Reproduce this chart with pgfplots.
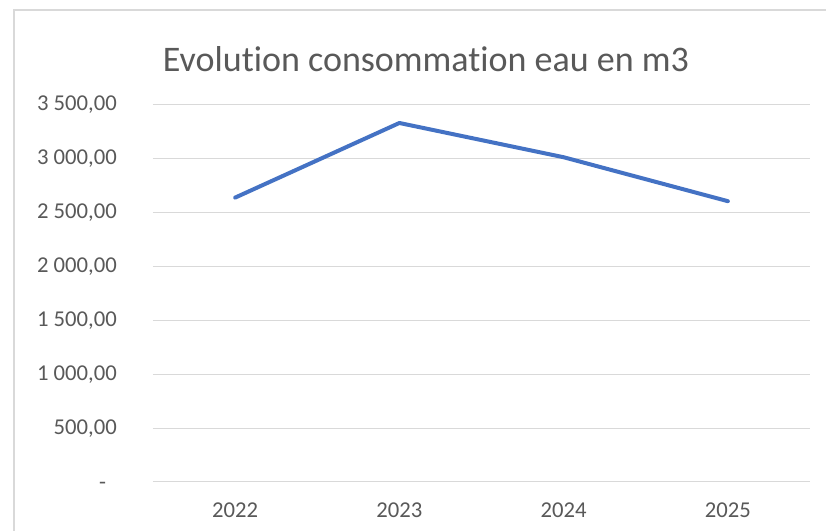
\documentclass[border=0pt]{standalone}
\usepackage{pgfplots}
\pgfplotsset{compat=1.18}
\usepackage{fontspec}
\setmainfont{Carlito}[Ligatures=NoCommon]
\definecolor{txtgray}{HTML}{595959}
\definecolor{gridgray}{HTML}{D9D9D9}
\definecolor{lineblue}{HTML}{4472C4}
\begin{document}
\begin{tikzpicture}
% page frame (826 x 531 px at 0.75pt/px)
\useasboundingbox (0,0) rectangle (619.5pt,398.25pt);
\fill[white] (0,0) rectangle (619.5pt,398.25pt);
\draw[gridgray, line width=1.5pt] (10.5pt,0) -- (10.5pt,390.75pt) -- (619.5pt,390.75pt);
\node[txtgray, font=\fontsize{27}{32}\selectfont] at (319.5pt,354pt) {Evolution consommation eau en m3};
\begin{axis}[
    at={(114.75pt,36.75pt)}, anchor=south west,
    scale only axis, width=492.75pt, height=282.75pt,
    xmin=-0.5, xmax=3.5, ymin=0, ymax=3500,
    xtick={0,1,2,3}, xticklabels={2022,2023,2024,2025},
    ytick={0,500,1000,1500,2000,2500,3000,3500},
    yticklabels={{\makebox[0pt][r]{\phantom{0}-\hspace{7.5pt}}},{500,00},{1 000,00},{1 500,00},{2 000,00},{2 500,00},{3 000,00},{3 500,00}},
    ymajorgrids, grid style={gridgray, line width=0.75pt},
    axis line style={draw=none}, major tick length=0pt,
    tick label style={txtgray, font=\fontsize{17}{20}\selectfont},
    yticklabel style={anchor=east, inner sep=0pt, xshift=-27pt},
    xticklabel style={anchor=north, inner sep=0pt, yshift=-15.75pt},
    /pgf/number format/assume math mode=true,
    clip=false
]
\addplot[lineblue, line width=3pt, line join=round, line cap=round, mark=none]
    coordinates {(0,2640) (1,3333) (2,3015) (3,2607)};
\end{axis}
\end{tikzpicture}
\end{document}
